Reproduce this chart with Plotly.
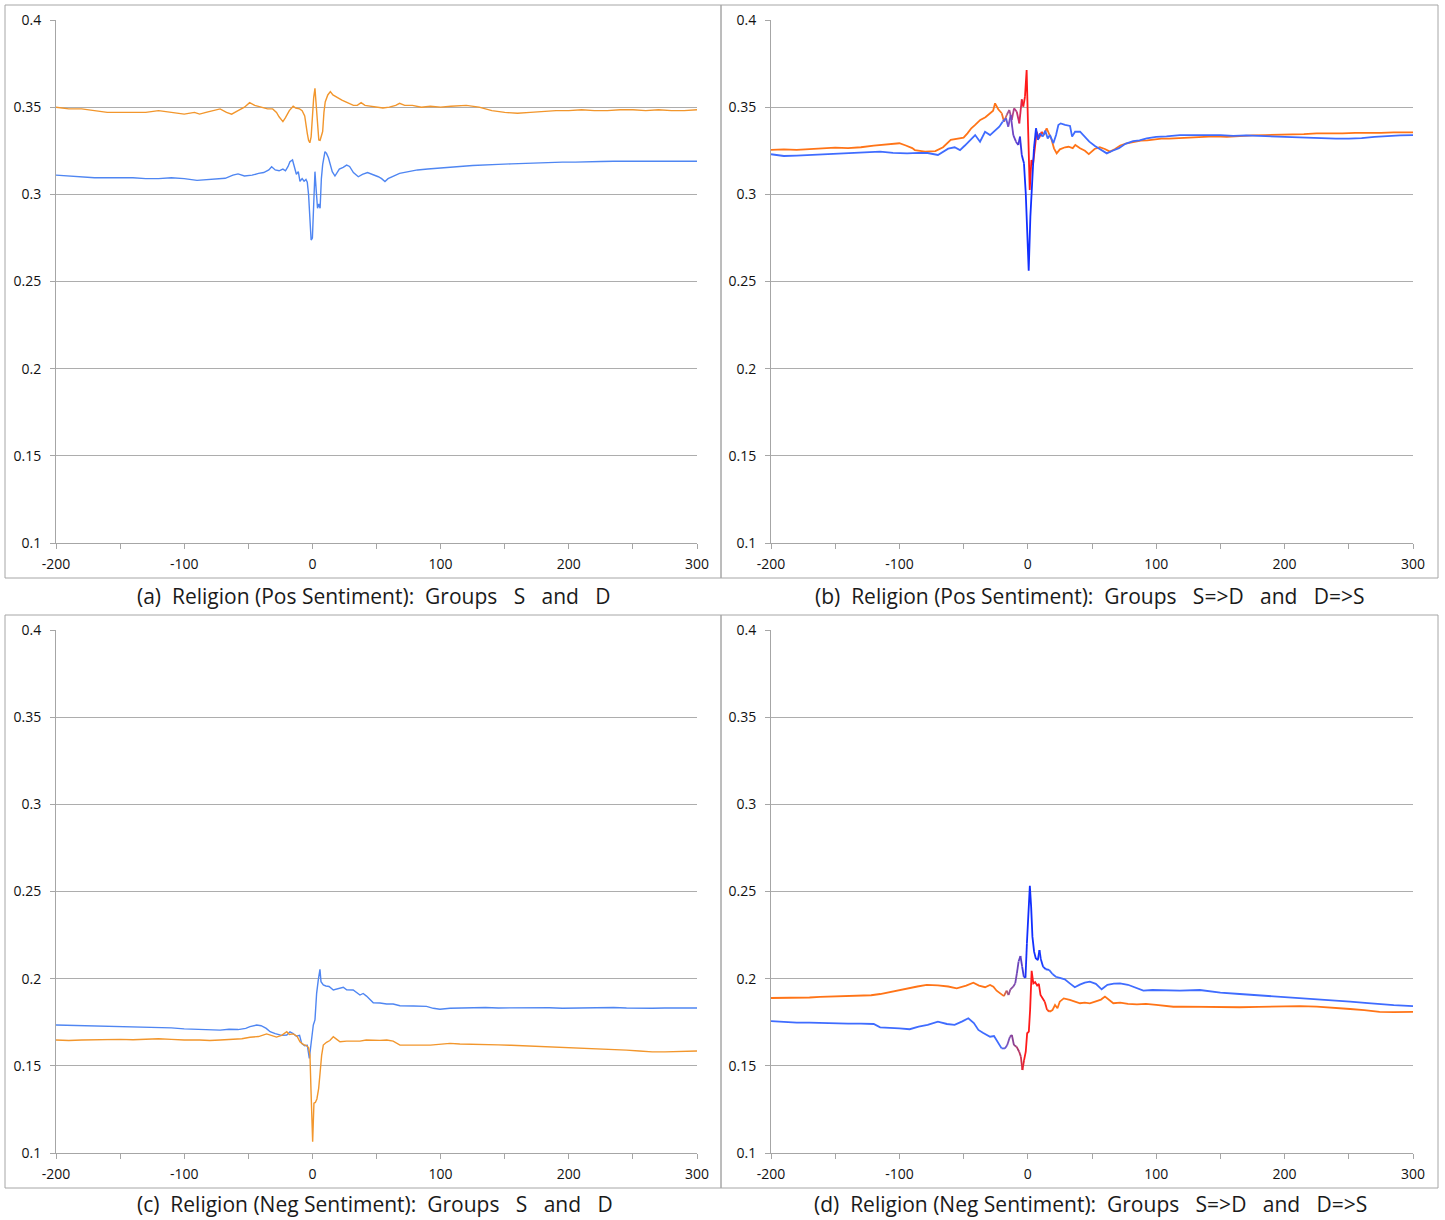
import plotly.graph_objects as go

W, H = 1445, 1220

# ---------------------------------------------------------------- data
# (a) Religion, positive sentiment: groups S and D
a_s_x = [-200, -190, -180, -170, -160, -150, -140, -130, -120, -110, -100, -90, -82, -75, -68, -62, -58, -53, -47, -42,
         -38, -34, -31.8, -29, -26, -23, -21, -19, -17.5, -15.5, -14, -12.5, -11, -9.7, -8, -6.5, -5, -4, -3, -2,
         -1, 0, 1, 2, 3, 4, 5, 6, 7, 8, 9.8, 11, 12.5, 14, 15.5, 17.6, 19, 21, 24, 26.7,
         29, 32, 35.8, 39, 43, 47, 51.4, 54, 56.6, 59, 63, 68, 75, 82, 90, 98, 107, 115, 125, 135,
         145, 155, 165, 175, 185, 195, 205, 215, 225, 235, 245, 255, 265, 275, 285, 300]
a_s_y = [0.311, 0.3105, 0.310, 0.3095, 0.3095, 0.3095, 0.3095, 0.309, 0.309, 0.3095, 0.309, 0.308, 0.3085, 0.309, 0.3092,
         0.311, 0.3117, 0.3105, 0.311, 0.312, 0.3125, 0.314, 0.3158, 0.314, 0.3135, 0.3145, 0.3135, 0.316, 0.3187,
         0.3197, 0.316, 0.3115, 0.313, 0.3075, 0.309, 0.3075, 0.3085, 0.307, 0.300, 0.288, 0.2738, 0.275, 0.290,
         0.313, 0.302, 0.292, 0.2945, 0.292, 0.309, 0.317, 0.3245, 0.3235, 0.321, 0.3165, 0.313, 0.3105, 0.3125,
         0.3145, 0.3155, 0.3168, 0.316, 0.3125, 0.3101, 0.3115, 0.3125, 0.3115, 0.3101, 0.309, 0.3073, 0.309,
         0.3105, 0.312, 0.313, 0.314, 0.3145, 0.315, 0.3159, 0.316, 0.3165, 0.317, 0.3172, 0.3175, 0.3178, 0.318,
         0.3182, 0.3185, 0.3185, 0.3185, 0.3188, 0.319, 0.3188, 0.319, 0.319, 0.319, 0.319, 0.319]

a_d_x = [-200, -190, -180, -170, -160, -150, -140, -130, -120, -110, -100, -92, -88, -83, -78, -72, -67, -63, -58, -53,
         -49, -45, -40, -35, -31, -28, -26, -23, -21, -18, -15, -13, -10, -8, -6, -5, -4, -3, -2, -1,
         0, 1, 2, 3, 4, 5, 6, 7, 8, 9, 10, 12, 14, 16, 18, 20, 23, 26, 29, 32,
         35, 38, 41, 45, 50, 55, 60, 65, 68, 72, 78, 85, 92, 100, 108, 115, 120, 130, 140, 150,
         160, 170, 180, 190, 200, 210, 220, 230, 240, 250, 260, 270, 280, 290, 300]
a_d_y = [0.350, 0.349, 0.349, 0.348, 0.347, 0.347, 0.347, 0.347, 0.348, 0.347, 0.346, 0.347, 0.346, 0.347, 0.348, 0.349,
         0.347, 0.346, 0.348, 0.350, 0.3526, 0.351, 0.350, 0.349, 0.349, 0.347, 0.3445, 0.3417, 0.344, 0.348, 0.3505,
         0.3495, 0.349, 0.348, 0.345, 0.339, 0.335, 0.331, 0.3296, 0.333, 0.345, 0.3555, 0.3608, 0.352, 0.339,
         0.3312, 0.331, 0.333, 0.336, 0.347, 0.353, 0.357, 0.3589, 0.357, 0.356, 0.355, 0.354, 0.353, 0.352, 0.351,
         0.351, 0.3526, 0.351, 0.3505, 0.350, 0.3495, 0.350, 0.351, 0.3522, 0.351, 0.351, 0.350, 0.3505, 0.350,
         0.3505, 0.351, 0.351, 0.350, 0.348, 0.347, 0.3465, 0.347, 0.3475, 0.348, 0.348, 0.3485, 0.348, 0.348,
         0.3485, 0.3485, 0.348, 0.3485, 0.348, 0.348, 0.3485]

# (b) Religion, positive sentiment: groups S=>D and D=>S
b_sd_x = [-200, -190, -180, -170, -160, -150, -140, -130, -120, -115, -108, -100, -95, -90, -88, -80, -72, -66, -60, -55,
          -50, -47, -44, -41, -37, -33, -29.4, -27, -25.5, -23, -20.3, -18.5, -16.4, -14.4, -12.5, -10.7, -8.6, -6.6, -4.7, -3.5,
          -2.2, -0.9, 0.2, 1.5, 2.8, 4.0, 5.6, 6.9, 8.7, 10.8, 12.6, 14.7, 16.7, 18.6, 20.4, 22.5, 25, 29, 31.7, 35,
          37, 40.7, 44.5, 47.5, 52, 56, 60, 64, 68, 72, 77, 82, 88, 93, 98, 104, 110, 118, 125, 135,
          145, 155, 165, 175, 185, 195, 205, 215, 225, 235, 245, 255, 265, 275, 285, 300]
b_sd_y = [0.3255, 0.3258, 0.3255, 0.326, 0.3265, 0.3268, 0.3265, 0.327, 0.328, 0.3283, 0.3285, 0.3293, 0.328, 0.3265,
          0.3254, 0.3245, 0.3248, 0.327, 0.3312, 0.332, 0.3325, 0.335, 0.3379, 0.3398, 0.3427, 0.3442, 0.3465, 0.348,
          0.3522, 0.3488, 0.3465, 0.3417, 0.3455, 0.3484, 0.3427, 0.3493, 0.3474, 0.3407, 0.3545, 0.3503, 0.356,
          0.3713, 0.3388, 0.3025, 0.3197, 0.3168, 0.3273, 0.3359, 0.3321, 0.3359, 0.334, 0.3379, 0.334, 0.3312,
          0.3264, 0.3235, 0.3258, 0.327, 0.3273, 0.3265, 0.3283, 0.3264, 0.325, 0.3231, 0.326, 0.327, 0.326, 0.3245,
          0.326, 0.328, 0.3293, 0.330, 0.3308, 0.331, 0.3315, 0.332, 0.332, 0.3322, 0.3325, 0.333, 0.3332, 0.333,
          0.3335, 0.3338, 0.334, 0.3342, 0.334, 0.3345, 0.335, 0.3348, 0.335, 0.3352, 0.335, 0.3352, 0.3355, 0.3355]

b_ds_x = [-200, -190, -180, -170, -160, -150, -140, -130, -120, -115, -105, -94, -85, -78, -70, -66, -62, -57, -52.8, -49,
          -44, -41, -37.2, -33.3, -29.4, -25.5, -22.2, -19.6, -17, -15.2, -13.3, -11.3, -9.2, -7.4, -6.1, -4.7, -3.0, -1.6, -0.4, 0.7,
          2.0, 3.3, 4.8, 6.4, 7.9, 9.5, 11.6, 13.6, 15.5, 17.3, 19.9, 22.0, 23.8, 25.6, 29.0, 32.9, 34.5, 36.8, 40.7, 44.5,
          47.9, 52.3, 56, 61.5, 66, 71, 76, 82, 87, 92.6, 100, 108, 118.5, 130, 140, 150, 160, 170, 180, 190,
          200, 210, 220, 230, 240, 250, 260, 270, 280, 290, 300]
b_ds_y = [0.323, 0.322, 0.3222, 0.3225, 0.323, 0.3232, 0.3235, 0.3238, 0.3242, 0.3245, 0.3238, 0.3235, 0.3238, 0.3237,
          0.3226, 0.3245, 0.3262, 0.327, 0.3254, 0.328, 0.3321, 0.334, 0.3302, 0.3359, 0.334, 0.3369, 0.3388, 0.3417,
          0.3436, 0.3388, 0.3455, 0.334, 0.3302, 0.3283, 0.3331, 0.3226, 0.3178, 0.3006, 0.2776, 0.2562, 0.2872,
          0.3101, 0.3264, 0.3379, 0.3312, 0.335, 0.3331, 0.3365, 0.3321, 0.334, 0.3293, 0.334, 0.3398, 0.3407, 0.3398,
          0.3392, 0.3331, 0.3359, 0.3359, 0.3331, 0.3302, 0.3277, 0.326, 0.3235, 0.325, 0.3265, 0.329, 0.3305, 0.331,
          0.3321, 0.333, 0.3332, 0.334, 0.334, 0.3342, 0.334, 0.3335, 0.3338, 0.3335, 0.3332, 0.333, 0.3328, 0.3325,
          0.3322, 0.332, 0.332, 0.3322, 0.333, 0.3335, 0.3338, 0.334]

# (c) Religion, negative sentiment: groups S and D
c_s_x = [-200, -190, -180, -170, -160, -150, -140, -130, -120, -110, -100, -88, -80, -72, -65, -58, -52, -48.7, -43.5, -40,
         -36, -33, -29, -24, -20, -17.5, -15, -12.5, -10, -8.4, -6, -4, -2.4, -1, 0.7, 2, 3.3, 4.6, 5.9, 6.7,
         8.5, 10.5, 13, 16.3, 19, 21.5, 24.1, 26.7, 31.8, 37.1, 39.6, 42.2, 47.5, 52.7, 57.9, 63, 68.3, 78.8, 89, 94.3,
         99.5, 107.3, 115, 125, 135, 145, 155, 165, 175, 185, 195, 205, 215, 225, 235, 245, 255, 265, 275, 285,
         300]
c_s_y = [0.1734, 0.1732, 0.173, 0.1732, 0.173, 0.1728, 0.1725, 0.1722, 0.172, 0.1718, 0.1712, 0.171, 0.1708, 0.1705,
         0.171, 0.1708, 0.1715, 0.1725, 0.1734, 0.173, 0.1715, 0.1696, 0.1685, 0.1675, 0.1677, 0.1695, 0.1685, 0.167,
         0.1675, 0.1629, 0.1615, 0.1618, 0.1543, 0.1618, 0.1734, 0.1763, 0.1916, 0.1993, 0.2054, 0.1983, 0.1964,
         0.1958, 0.1955, 0.1935, 0.1941, 0.1945, 0.1951, 0.1936, 0.1935, 0.1906, 0.1915, 0.190, 0.1862, 0.186, 0.1855,
         0.1855, 0.1845, 0.1843, 0.1841, 0.183, 0.1825, 0.183, 0.1832, 0.1835, 0.1835, 0.1832, 0.1833, 0.1835,
         0.1835, 0.1833, 0.183, 0.1832, 0.1833, 0.1835, 0.1835, 0.1832, 0.183, 0.183, 0.1832, 0.1833, 0.1832]

c_d_x = [-200, -190, -180, -170, -160, -150, -140, -130, -120, -110, -100, -88, -80, -72, -62, -55, -48.7, -42, -35.7, -32,
         -28, -24, -20, -18, -15, -12, -9.7, -7, -5, -3, -1.9, -1.1, 0.2, 1.2, 2.3, 3.5, 4.9, 6, 7.2, 8.5,
         11, 13.6, 16.3, 19, 21.5, 26.7, 31.8, 37.1, 42, 47.5, 52.7, 58, 63, 68.3, 76, 84, 92, 100, 107.3, 115,
         125, 135, 145, 155, 165, 175, 185, 195, 205, 215, 225, 235, 245, 255, 265, 275, 285, 300]
c_d_y = [0.1648, 0.1645, 0.1648, 0.165, 0.1648, 0.1652, 0.165, 0.1652, 0.1655, 0.1652, 0.1648, 0.1648, 0.1645, 0.1648,
         0.1652, 0.1655, 0.1664, 0.1668, 0.1683, 0.1675, 0.1665, 0.1675, 0.1696, 0.168, 0.1683, 0.167, 0.1638, 0.1622,
         0.1618, 0.1605, 0.1562, 0.1361, 0.1065, 0.1286, 0.129, 0.131, 0.1371, 0.146, 0.156, 0.1619, 0.1635, 0.1645,
         0.1667, 0.1652, 0.1638, 0.1642, 0.164, 0.1642, 0.1648, 0.1645, 0.1646, 0.1648, 0.1642, 0.1619, 0.1617,
         0.1619, 0.1619, 0.1625, 0.1629, 0.1625, 0.1622, 0.162, 0.162, 0.1618, 0.1615, 0.1613, 0.161, 0.1608, 0.1605,
         0.160, 0.1595, 0.1592, 0.159, 0.1585, 0.158, 0.158, 0.1582, 0.1585]

# (d) Religion, negative sentiment: groups S=>D and D=>S
d_sd_x = [-200, -190, -180, -170, -160, -150, -140, -130, -120, -115, -108, -100, -92, -85, -78, -70, -63, -57, -51, -46.3,
          -42, -38.5, -35, -32, -29.4, -26.3, -23, -20.4, -17.8, -16, -13.9, -12.4, -10.8, -8.8, -6.7, -5.4, -4.2, -2.9, -1.6, -0.5,
          0.8, 1.8, 3.0, 4.3, 5.7, 7.3, 8.6, 9.9, 11.4, 13.2, 15.0, 17.1, 19.2, 21.2, 23.1, 24.9, 28, 32.7, 37.9, 40.7,
          44.4, 48.3, 53, 57, 60.1, 63, 66.6, 72, 78, 85, 92, 100, 107, 113.3, 120, 134, 150, 165, 180, 195,
          212, 225, 240, 251, 262, 274, 285, 300]
d_sd_y = [0.1757, 0.1752, 0.1748, 0.1748, 0.1745, 0.1746, 0.1742, 0.1742, 0.174, 0.1721, 0.172, 0.1715, 0.171, 0.1725,
          0.1735, 0.1753, 0.174, 0.1735, 0.1755, 0.1773, 0.1745, 0.1706, 0.169, 0.168, 0.1667, 0.1671, 0.1629, 0.160,
          0.160, 0.1619, 0.1667, 0.1677, 0.1619, 0.161, 0.1581, 0.1552, 0.1476, 0.1533, 0.1581, 0.1687, 0.1696,
          0.1821, 0.2045, 0.1973, 0.198, 0.196, 0.197, 0.1906, 0.1887, 0.1868, 0.1821, 0.1811, 0.182, 0.1849, 0.183,
          0.1868, 0.1887, 0.1878, 0.1868, 0.1859, 0.1862, 0.1858, 0.187, 0.188, 0.1897, 0.188, 0.1859, 0.1862,
          0.1855, 0.1852, 0.1855, 0.185, 0.1845, 0.1839, 0.184, 0.1838, 0.1836, 0.1836, 0.1838, 0.184, 0.1843,
          0.184, 0.183, 0.1826, 0.182, 0.1809, 0.1808, 0.181]

d_ds_x = [-200, -190, -180, -170, -161.8, -150, -140, -130.7, -122, -115, -105, -94.3, -86, -78.7, -70, -62, -55.4, -48, -42.4, -38,
          -33.3, -29.4, -26.8, -24.3, -21.2, -18.6, -16.5, -15, -13.5, -11.4, -9.8, -8.5, -7.2, -5.7, -4.4, -3.1, -1.8, -0.7, 0.3, 1.6,
          2.6, 3.6, 4.9, 6.2, 7.8, 9.1, 10.1, 11.9, 14, 16.6, 19.2, 21.8, 24.9, 28.8, 32.7, 36.6, 40.5, 44.4, 48.3, 53,
          57.5, 62, 67, 71.8, 78, 84, 90, 97, 105, 118.5, 134, 150, 165, 180, 196, 212, 230, 251, 265, 274,
          285, 300]
d_ds_y = [0.1889, 0.1889, 0.189, 0.1892, 0.1895, 0.1897, 0.190, 0.190, 0.1905, 0.1912, 0.1928, 0.1945, 0.1955, 0.1964,
          0.1962, 0.1955, 0.1945, 0.196, 0.1977, 0.196, 0.1951, 0.1964, 0.1954, 0.1931, 0.1916, 0.190, 0.1931, 0.1906,
          0.1939, 0.1954, 0.1973, 0.2031, 0.2098, 0.213, 0.2069, 0.2011, 0.2005, 0.2203, 0.2394, 0.2532, 0.2413,
          0.2241, 0.2155, 0.2117, 0.2107, 0.2164, 0.2113, 0.2069, 0.2054, 0.205, 0.2027, 0.2011, 0.2005, 0.1996,
          0.1973, 0.1951, 0.1966, 0.1977, 0.1983, 0.197, 0.1939, 0.1965, 0.1972, 0.1973, 0.1965, 0.195, 0.1931,
          0.1935, 0.1932, 0.1931, 0.1935, 0.192, 0.1912, 0.1905, 0.1895, 0.1887, 0.1878, 0.1868, 0.186, 0.1853,
          0.1848, 0.1842]

x_tick_vals = [-200, -150, -100, -50, 0, 50, 100, 150, 200, 250, 300]
x_tick_text = ["-200", "", "-100", "", "0", "", "100", "", "200", "", "300"]
y_tick_vals = [0.1, 0.15, 0.2, 0.25, 0.3, 0.35, 0.4]
y_tick_text = ["0.1", "0.15", "0.2", "0.25", "0.3", "0.35", "0.4"]

captions = [
    "(a)  Religion (Pos Sentiment):  Groups   S   and   D",
    "(b)  Religion (Pos Sentiment):  Groups   S=>D   and   D=>S",
    "(c)  Religion (Neg Sentiment):  Groups   S   and   D",
    "(d)  Religion (Neg Sentiment):  Groups   S=>D   and   D=>S",
]

# ---------------------------------------------------------------- styling
BLUE_A, ORANGE_A = "#4f86f2", "#f2962c"
BLUE_B, ORANGE_B = "#3f6cff", "#ff7417"
DEEP_BLUE, RED = "#1230ff", "#ff1a1a"

# colour stops along x for each line (x, colour)
stops = {
    "a_s": [(-200, BLUE_A), (300, BLUE_A)],
    "a_d": [(-200, ORANGE_A), (300, ORANGE_A)],
    "c_s": [(-200, BLUE_A), (300, BLUE_A)],
    "c_d": [(-200, ORANGE_A), (300, ORANGE_A)],
    "b_sd": [(-200, ORANGE_B), (-20, ORANGE_B), (-15, "#9a559e"), (-8, "#c0307a"), (-2.5, RED),
             (9, RED), (15, ORANGE_B), (300, ORANGE_B)],
    "b_ds": [(-200, BLUE_B), (-19, BLUE_B), (-14, "#7c4cbe"), (-8, "#5a3ccc"), (-3, DEEP_BLUE),
             (5, DEEP_BLUE), (12, BLUE_B), (300, BLUE_B)],
    "d_sd": [(-200, BLUE_B), (-21, BLUE_B), (-16, "#7a55c0"), (-11, "#8c3f90"), (-5, "#c8304e"),
             (-2.5, RED), (13, RED), (18, ORANGE_B), (300, ORANGE_B)],
    "d_ds": [(-200, ORANGE_B), (-19, ORANGE_B), (-15, "#985090"), (-10, "#7a48b0"), (-5, "#5a40c8"),
             (-1, DEEP_BLUE), (9, DEEP_BLUE), (18, BLUE_B), (300, BLUE_B)],
}


def _rgb(h):
    h = h.lstrip("#")
    return tuple(int(h[i:i + 2], 16) for i in (0, 2, 4))


def colour_at(x, st):
    for (x0, c0), (x1, c1) in zip(st[:-1], st[1:]):
        if x0 <= x <= x1:
            t = 0 if x1 == x0 else (x - x0) / (x1 - x0)
            a, b = _rgb(c0), _rgb(c1)
            r = [round(a[k] + (b[k] - a[k]) * t) for k in range(3)]
            return "rgb(%d,%d,%d)" % tuple(r)
    return st[-1][1]


def add_line(fig, xs, ys, st, xa, ya, width):
    # one trace per run of equally coloured segments
    cols = [colour_at((xs[i] + xs[i + 1]) / 2, st) for i in range(len(xs) - 1)]
    i = 0
    while i < len(cols):
        j = i
        while j + 1 < len(cols) and cols[j + 1] == cols[i]:
            j += 1
        fig.add_trace(go.Scatter(
            x=xs[i:j + 2], y=ys[i:j + 2], mode="lines",
            line=dict(color=cols[i], width=width, shape="linear"),
            xaxis=xa, yaxis=ya, showlegend=False, hoverinfo="skip"))
        i = j + 1


# ---------------------------------------------------------------- layout
# pixel geometry of each panel: plot area and surrounding frame
panels = [
    dict(px0=56, px1=697, py0=20, py1=543, box=(5, 5, 721, 578), cap=(374, 596)),
    dict(px0=771, px1=1413, py0=20, py1=543, box=(721, 5, 1438, 578), cap=(1090, 596)),
    dict(px0=56, px1=697, py0=630, py1=1153, box=(5, 615, 721, 1188), cap=(375, 1204)),
    dict(px0=771, px1=1413, py0=630, py1=1153, box=(721, 615, 1438, 1188), cap=(1090, 1204)),
]

series = [
    [("a_s", a_s_x, a_s_y), ("a_d", a_d_x, a_d_y)],
    [("b_sd", b_sd_x, b_sd_y), ("b_ds", b_ds_x, b_ds_y)],
    [("c_s", c_s_x, c_s_y), ("c_d", c_d_x, c_d_y)],
    [("d_sd", d_sd_x, d_sd_y), ("d_ds", d_ds_x, d_ds_y)],
]

fig = go.Figure()
AXIS_GREY = "#a6a6a6"
GRID_GREY = "#adadad"
tick_font = dict(family="Open Sans", size=14, color="#111111")
shapes, annotations, axes = [], [], {}

for k, p in enumerate(panels):
    n = "" if k == 0 else str(k + 1)
    xa, ya = "x" + n, "y" + n
    axes["xaxis" + n] = dict(
        domain=[p["px0"] / W, p["px1"] / W], anchor=ya, range=[-200, 300], fixedrange=True,
        tickmode="array", tickvals=x_tick_vals, ticktext=x_tick_text,
        ticks="outside", ticklen=5, tickwidth=1, tickcolor=AXIS_GREY,
        showline=True, linecolor=AXIS_GREY, linewidth=1, automargin=False,
        showgrid=False, zeroline=False, tickfont=tick_font, ticklabelstandoff=3)
    axes["yaxis" + n] = dict(
        domain=[1 - p["py1"] / H, 1 - p["py0"] / H], anchor=xa, range=[0.1, 0.4], fixedrange=True,
        tickmode="array", tickvals=y_tick_vals, ticktext=y_tick_text,
        ticks="outside", ticklen=5, tickwidth=1, tickcolor=AXIS_GREY,
        showline=True, linecolor=AXIS_GREY, linewidth=1, automargin=False,
        showgrid=True, gridcolor=GRID_GREY, gridwidth=1.2, zeroline=False,
        tickfont=tick_font, ticklabelstandoff=6)
    width = 1.4 if k in (0, 2) else 1.8
    for key, xs, ys in series[k]:
        add_line(fig, xs, ys, stops[key], xa, ya, width)

    bx0, by0, bx1, by1 = p["box"]
    shapes.append(dict(type="rect", xref="paper", yref="paper",
                       x0=bx0 / W, x1=bx1 / W, y0=1 - by1 / H, y1=1 - by0 / H,
                       line=dict(color="#a6a6a6", width=1), fillcolor="rgba(0,0,0,0)", layer="below"))
    cx, cy = p["cap"]
    annotations.append(dict(
        text=captions[k].replace(" ", "\u00a0"), xref="paper", yref="paper",
        x=cx / W, y=1 - cy / H, xanchor="center", yanchor="middle", showarrow=False,
        font=dict(family="Open Sans", size=21, color="#1a1a1a")))

fig.update_layout(
    width=W, height=H, margin=dict(l=0, r=0, t=0, b=0, pad=0, autoexpand=False),
    paper_bgcolor="white", plot_bgcolor="white",
    showlegend=False, hovermode=False,
    shapes=shapes, annotations=annotations, **axes)

fig.write_html("out.html", config={"displayModeBar": False})
